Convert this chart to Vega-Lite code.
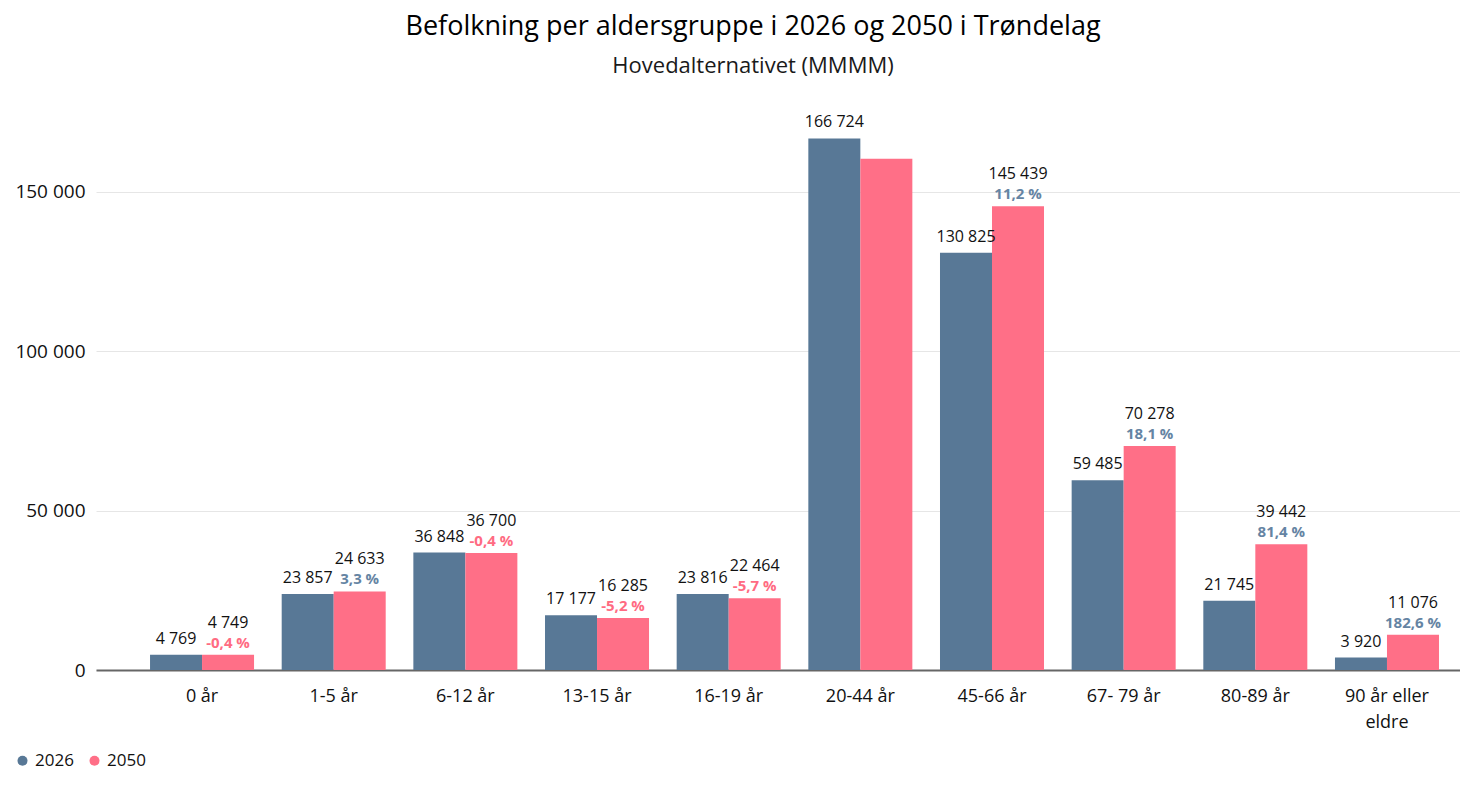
{
  "$schema": "https://vega.github.io/schema/vega-lite/v6.json",
  "autosize": "none",
  "width": 1364,
  "height": 558,
  "padding": {"left": 96, "top": 112, "right": 0, "bottom": 118},
  "background": "#ffffff",
  "config": {
    "locale": {"number": {"decimal": ",", "thousands": " ", "grouping": [3], "currency": ["", " kr"], "minus": "-"}},
    "font": "Open Sans",
    "view": {"stroke": null}
  },
  "title": {
    "text": "Befolkning per aldersgruppe i 2026 og 2050 i Trøndelag",
    "subtitle": "Hovedalternativet (MMMM)",
    "font": "Open Sans",
    "subtitleFont": "Open Sans",
    "fontSize": 27,
    "fontWeight": "normal",
    "subtitleFontSize": 22,
    "color": "#000000",
    "subtitleColor": "#1a1a1a",
    "anchor": "middle",
    "frame": "group",
    "dx": -25,
    "offset": 34,
    "subtitlePadding": 15
  },
  "data": {
    "values": [
      {"group": "0 år", "year": "2026", "value": 4769, "pct": null},
      {"group": "0 år", "year": "2050", "value": 4749, "pct": -0.4},
      {"group": "1-5 år", "year": "2026", "value": 23857, "pct": null},
      {"group": "1-5 år", "year": "2050", "value": 24633, "pct": 3.3},
      {"group": "6-12 år", "year": "2026", "value": 36848, "pct": null},
      {"group": "6-12 år", "year": "2050", "value": 36700, "pct": -0.4},
      {"group": "13-15 år", "year": "2026", "value": 17177, "pct": null},
      {"group": "13-15 år", "year": "2050", "value": 16285, "pct": -5.2},
      {"group": "16-19 år", "year": "2026", "value": 23816, "pct": null},
      {"group": "16-19 år", "year": "2050", "value": 22464, "pct": -5.7},
      {"group": "20-44 år", "year": "2026", "value": 166724, "pct": null},
      {"group": "20-44 år", "year": "2050", "value": 160300, "pct": null},
      {"group": "45-66 år", "year": "2026", "value": 130825, "pct": null},
      {"group": "45-66 år", "year": "2050", "value": 145439, "pct": 11.2},
      {"group": "67- 79 år", "year": "2026", "value": 59485, "pct": null},
      {"group": "67- 79 år", "year": "2050", "value": 70278, "pct": 18.1},
      {"group": "80-89 år", "year": "2026", "value": 21745, "pct": null},
      {"group": "80-89 år", "year": "2050", "value": 39442, "pct": 81.4},
      {"group": "90 år eller eldre", "year": "2026", "value": 3920, "pct": null},
      {"group": "90 år eller eldre", "year": "2050", "value": 11076, "pct": 182.6}
    ]
  },
  "encoding": {
    "x": {
      "field": "group",
      "type": "nominal",
      "sort": null,
      "scale": {"paddingInner": 0.21, "paddingOuter": 0.285, "align": 0.72},
      "axis": {
        "title": null,
        "labelAngle": 0,
        "labelFontSize": 18,
        "labelColor": "#111111",
        "labelPadding": 17,
        "labelLineHeight": 26,
        "labelExpr": "datum.label == '90 år eller eldre' ? ['90 år eller', 'eldre'] : datum.label",
        "ticks": false,
        "domainColor": "#666666",
        "domainWidth": 2,
        "grid": false
      }
    },
    "xOffset": {"field": "year", "type": "nominal", "sort": ["2026", "2050"]},
    "y": {
      "field": "value",
      "type": "quantitative",
      "scale": {"domain": [0, 175000], "nice": false},
      "axis": {
        "title": null,
        "values": [0, 50000, 100000, 150000],
        "format": ",d",
        "labelFontSize": 19,
        "labelColor": "#111111",
        "labelPadding": 11,
        "domain": false,
        "ticks": false,
        "grid": true,
        "gridColor": "#e6e6e6",
        "gridWidth": 1
      }
    }
  },
  "layer": [
    {
      "mark": {"type": "bar"},
      "encoding": {
        "color": {
          "field": "year",
          "type": "nominal",
          "scale": {"domain": ["2026", "2050"], "range": ["#587896", "#ff6f87"]},
          "legend": {
            "title": null,
            "orient": "none",
            "direction": "horizontal",
            "legendX": -82,
            "legendY": 640,
            "symbolType": "circle",
            "symbolSize": 100,
            "symbolStrokeWidth": 0,
            "labelFontSize": 17,
            "labelColor": "#111111",
            "labelOffset": 4,
            "columnPadding": 12
          }
        }
      }
    },
    {
      "transform": [{"filter": "datum.year == '2026'"}],
      "mark": {"type": "text", "baseline": "alphabetic", "dy": -11, "fontSize": 16, "color": "#111111"},
      "encoding": {"text": {"field": "value", "type": "quantitative", "format": ",d"}}
    },
    {
      "transform": [{"filter": "datum.year == '2050' && datum.pct != null"}],
      "mark": {"type": "text", "baseline": "alphabetic", "dy": -27, "fontSize": 16, "color": "#111111"},
      "encoding": {"text": {"field": "value", "type": "quantitative", "format": ",d"}}
    },
    {
      "transform": [
        {"filter": "datum.pct != null"},
        {"calculate": "replace(replace(format(datum.pct, '.1f'), '.', ','), '\u2212', '-') + ' %'", "as": "pctLabel"}
      ],
      "mark": {"type": "text", "baseline": "alphabetic", "dy": -7, "fontSize": 15, "fontWeight": "bold"},
      "encoding": {
        "text": {"field": "pctLabel", "type": "nominal"},
        "color": {"condition": {"test": "datum.pct < 0", "value": "#ff6b82"}, "value": "#6584a3"}
      }
    }
  ]
}
